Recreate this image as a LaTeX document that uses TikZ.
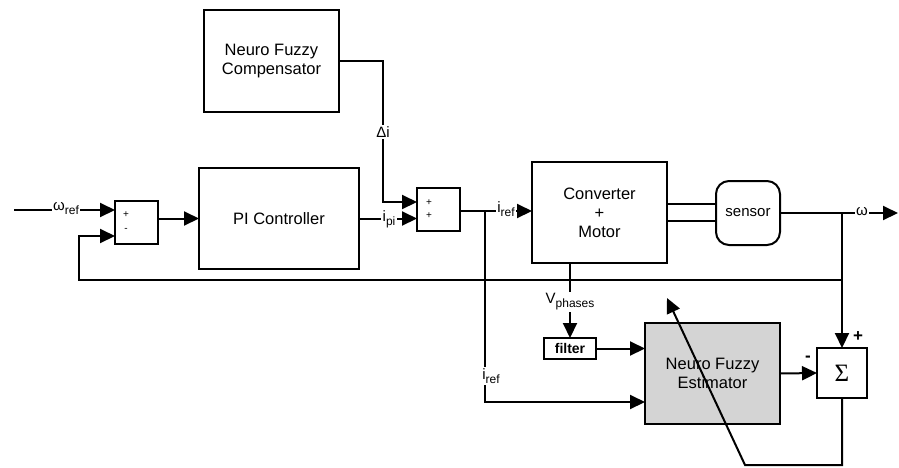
\documentclass[tikz,border=0pt]{standalone}
\usepackage{fontspec}
\setmainfont{Liberation Sans}
\newfontfamily\serifsym{Liberation Serif}
\usetikzlibrary{arrows.meta,calc}
\definecolor{estgray}{RGB}{212,212,212}
\newcommand{\lbl}[2]{{\fontsize{15}{17}\selectfont #1\raisebox{-4pt}{\fontsize{12}{14}\selectfont #2}}}
\begin{document}
\begin{tikzpicture}[x=1pt,y=-1pt,
  line width=2pt,
  >={Triangle[length=15pt,width=14pt]},
  blk/.style={draw,line width=2pt,inner sep=0pt,outer sep=0pt,align=center,font=\fontsize{16.5}{19}\selectfont},
  sumbox/.style={draw,line width=2pt,inner sep=0pt,outer sep=0pt,minimum width=43pt,minimum height=43pt},
  sgn/.style={inner sep=0pt,font=\fontsize{10}{11}\selectfont},
  lab/.style={fill=white,inner sep=1.5pt},
  conn/.style={line width=2pt}]
\useasboundingbox (0,0) rectangle (899,467);

% blocks
\node[blk,minimum width=135pt,minimum height=102pt] (comp) at (271.5,61) {Neuro Fuzzy\\Compensator};
\node[sumbox] (sum1) at (136.5,222.5) {};
\node[blk,minimum width=160pt,minimum height=101pt] (pi) at (279,218.5) {PI Controller};
\node[sumbox] (sum2) at (438.5,209.5) {};
\node[blk,minimum width=135pt,minimum height=101pt] (conv) at (599.5,212.5) {Converter\\+\\Motor};
\node[blk,minimum width=64pt,minimum height=64pt,rounded corners=13pt,font=\fontsize{15}{17}\selectfont] (sensor) at (748,213) {sensor};
\node[blk,minimum width=52pt,minimum height=21pt,font=\fontsize{14}{16}\selectfont\bfseries] (filter) at (570,348.5) {filter};
\node[blk,fill=estgray,minimum width=135pt,minimum height=101pt] (est) at (712.5,373.5) {Neuro Fuzzy\\Estimator};
\node[blk,minimum width=50pt,minimum height=50pt,font=\serifsym\fontsize{25}{27}\selectfont] (sig) at (842,373) {Σ};

% signs in summing boxes
\node[sgn] (s1p) at (126,215) {+};
\node[sgn] (s1m) at (126,230) {-};
\node[sgn] (s2p) at (429,203) {+};
\node[sgn] (s2q) at (429,216) {+};

% coordinates
\coordinate (in) at (14,210);
\coordinate (jw) at (842,213);
\coordinate (fbr) at (842,280);
\coordinate (fbl) at (79,280);
\coordinate (fbu) at (79,236);
\coordinate (cmpc) at (383,61);
\coordinate (cmpd) at (383,202);
\coordinate (ji) at (485,211);
\coordinate (jid) at (485,402);
\coordinate (out) at (898,213);
\coordinate (sb) at (842,465);
\coordinate (sl) at (745,465);
\coordinate (tip) at (667,298);

% input
\draw[conn,->] (in) -- (in -| sum1.west);
\node[lab] (wref) at (66,209) {\lbl{ω}{ref}};
% feedback
\draw[conn,->] (fbr) -- (fbl) -- (fbu) -- (fbu -| sum1.west);
% sum1 -> PI
\draw[conn,->] (sum1.east |- pi.west) -- (pi.west);
% PI -> sum2
\draw[conn,->] (pi.east) -- (pi.east -| sum2.west);
\node[lab] (ipi) at (389,219) {\lbl{i}{pi}};
% compensator -> sum2
\draw[conn,->] (comp.east) -- (cmpc) -- (cmpd) -- (cmpd -| sum2.west);
\node[lab] (di) at (383,132) {\fontsize{15}{17}\selectfont Δi};
% sum2 -> converter
\draw[conn,->] (sum2.east |- ji) -- (ji -| conv.west);
\node[lab] (iref1) at (506,209) {\lbl{i}{ref}};
% i_ref branch to estimator
\draw[conn,->] (ji) -- (jid) -- (jid -| est.west);
\node[lab] (iref2) at (491,376) {\lbl{i}{ref}};
% converter -> sensor (two lines)
\draw[conn] ([yshift=8.5pt]conv.east) -- ([yshift=8.5pt]conv.east -| sensor.west);
\draw[conn] ([yshift=-8.5pt]conv.east) -- ([yshift=-8.5pt]conv.east -| sensor.west);
% sensor -> output
\draw[conn,->] (sensor.east) -- (out);
\node[lab] (om) at (862,212) {\fontsize{15}{17}\selectfont ω};
% branch to sigma
\draw[conn,->] (jw) -- (sig.north);
\node[inner sep=0pt,font=\fontsize{17}{19}\selectfont\bfseries] (plus) at (858,337) {+};
% V phases
\node[inner sep=1pt] (vph) at (570,302) {\lbl{V}{phases}};
\draw[conn] (conv.south -| vph) -- (vph.north);
\draw[conn,->] (vph.south) -- (filter.north);
% filter -> estimator
\draw[conn,->] (filter.east) -- (filter.east -| est.west);
% estimator -> sigma
\draw[conn,->] (est.east) -- (sig.west);
\node[inner sep=0pt,font=\fontsize{17}{19}\selectfont\bfseries] (minus) at (808,359) {-};
% error path back through estimator
\draw[conn,->] (sig.south) -- (sb) -- (sl) -- (tip);
\end{tikzpicture}
\end{document}
